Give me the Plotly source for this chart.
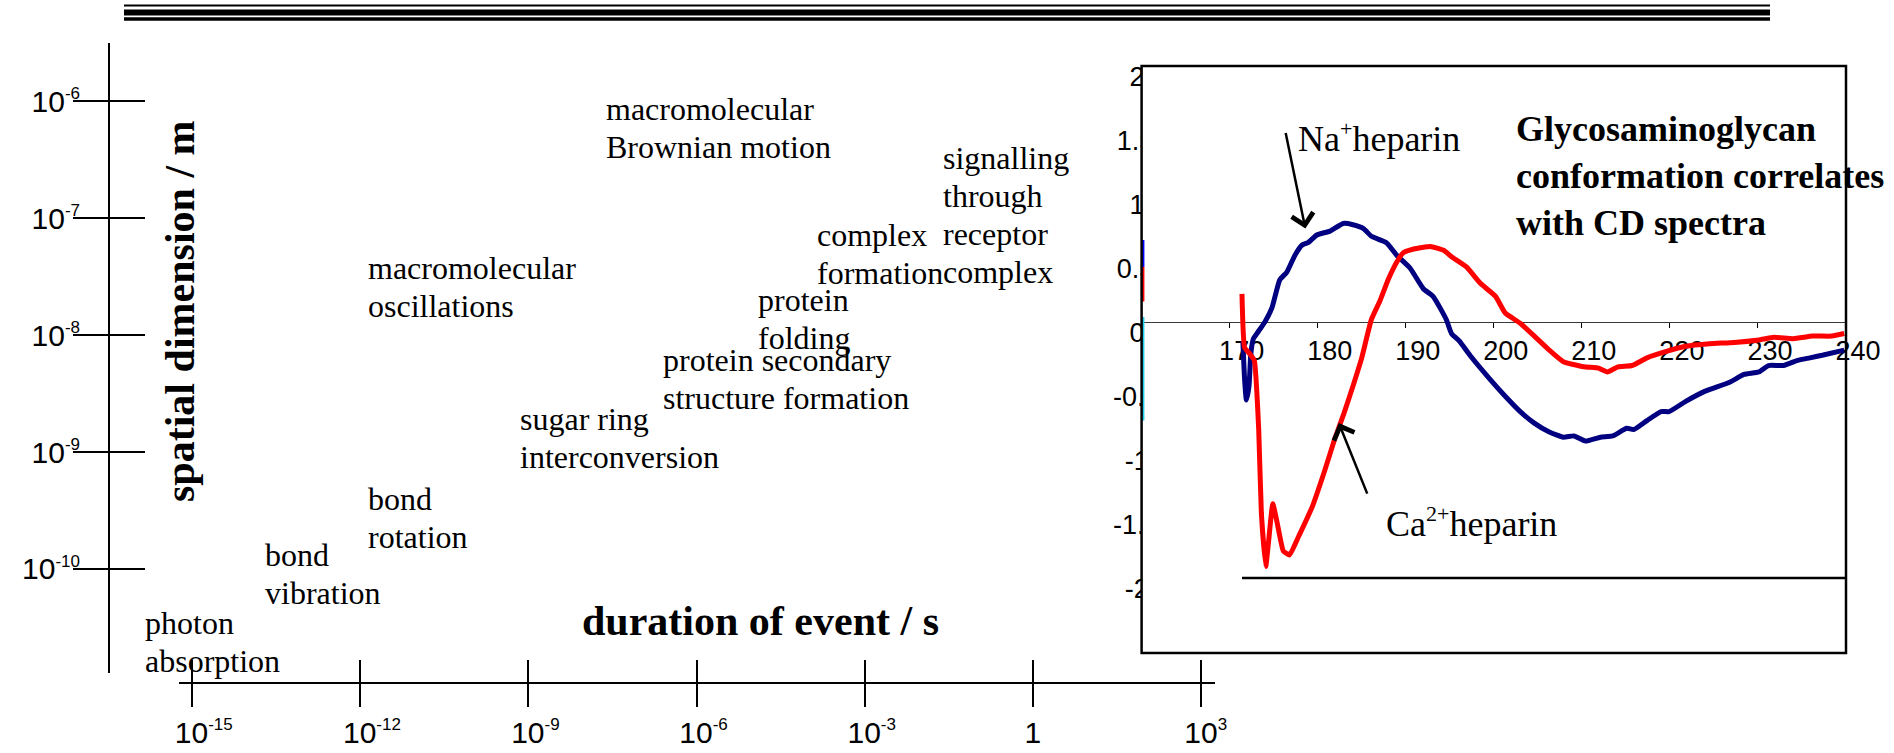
import plotly.graph_objects as go

W, H = 1894, 753
SANS = "Liberation Sans, Arial, sans-serif"
SERIF = "Liberation Serif, Times New Roman, serif"

# ---------------- main diagram: time / length scales ----------------
dur_tickvals = [1e-15, 1e-12, 1e-9, 1e-6, 1e-3, 1, 1e3]
dur_base = ["10", "10", "10", "10", "10", "1", "10"]
dur_exp = ["-15", "-12", "-9", "-6", "-3", "", "3"]

size_tickvals = [1e-10, 1e-9, 1e-8, 1e-7, 1e-6]
size_base = ["10", "10", "10", "10", "10"]
size_exp = ["-10", "-9", "-8", "-7", "-6"]

event_lines = [
    ["macromolecular", "Brownian motion"],
    ["signalling", "through", "receptor", "complex"],
    ["complex", "formation"],
    ["macromolecular", "oscillations"],
    ["protein", "folding"],
    ["protein secondary", "structure formation"],
    ["sugar ring", "interconversion"],
    ["bond", "rotation"],
    ["bond", "vibration"],
    ["photon", "absorption"],
]
# log10(duration / s) and log10(size / m) of each label (left edge, block centre)
event_log_dur = [-7.65, -1.64, -3.88, -11.90, -4.94, -6.63, -9.18, -11.90, -13.73, -15.0]
event_log_size = [-6.23, -6.97, -7.31, -7.59, -7.86, -8.38, -8.88, -9.56, -10.04, -10.62]
event_xshift = [0, 0, 0, 0, 0, 0, 0, 0, 0, -49]

# ---------------- inset: CD spectra ----------------
wl_na = [171.5, 171.7, 171.9, 172.2, 172.4, 172.7, 173.2, 174.0, 174.8, 175.7, 176.5, 177.4,
         178.2, 178.9, 179.9, 181.4, 182.9, 184.0, 185.2, 186.1, 187.8, 189.0, 190.5, 192.0,
         193.1, 194.6, 195.2, 196.1, 197.4, 199.6, 201.3, 203.0, 204.6, 206.3, 207.9, 209.1,
         210.4, 212.1, 213.5, 215.1, 215.9, 217.4, 219.0, 219.9, 221.8, 224.0, 226.8, 228.4,
         230.1, 231.2, 232.9, 234.5, 235.9, 237.3, 239.8]
cd_na = [-0.15, -0.45, -0.61, -0.50, -0.25, -0.13, -0.08, 0.00, 0.11, 0.33, 0.39, 0.52,
         0.60, 0.62, 0.68, 0.71, 0.77, 0.76, 0.73, 0.67, 0.62, 0.52, 0.42, 0.26,
         0.20, 0.02, -0.09, -0.15, -0.27, -0.45, -0.58, -0.70, -0.79, -0.86, -0.90, -0.89,
         -0.93, -0.90, -0.89, -0.83, -0.84, -0.77, -0.70, -0.70, -0.62, -0.54, -0.47, -0.41,
         -0.39, -0.34, -0.34, -0.30, -0.28, -0.26, -0.22]

wl_ca = [171.4, 171.7, 172.3, 172.8, 173.3, 173.6, 174.1, 174.4, 174.9, 175.4, 176.1, 176.8,
         177.8, 179.4, 180.8, 181.9, 183.0, 184.1, 185.0, 186.1, 187.1, 188.0, 189.0, 189.7,
         190.9, 192.8, 194.3, 195.2, 196.9, 198.5, 200.2, 201.3, 203.0, 204.6, 206.3, 207.9,
         210.2, 211.9, 212.9, 214.1, 215.7, 217.4, 219.6, 221.8, 224.5, 227.3, 230.1, 231.8,
         234.0, 236.2, 238.4, 239.8]
cd_ca = [0.22, -0.20, -0.25, -0.30, -0.84, -1.49, -1.91, -1.73, -1.42, -1.57, -1.79, -1.82,
         -1.68, -1.44, -1.16, -0.92, -0.71, -0.48, -0.28, 0.02, 0.17, 0.33, 0.47, 0.54,
         0.57, 0.59, 0.56, 0.51, 0.43, 0.30, 0.20, 0.07, -0.01, -0.11, -0.22, -0.31,
         -0.35, -0.36, -0.39, -0.35, -0.34, -0.28, -0.23, -0.19, -0.17, -0.16, -0.14, -0.12,
         -0.13, -0.11, -0.11, -0.09]

# black baseline of the pasted spectrum
base_wl = [171.4, 240.0]
base_cd = [-2.0, -2.0]

# small remnants of other traces at the left border
stub_blue = [0.64, 0.43]
stub_red = [0.43, 0.16]
stub_cyan = [0.04, -0.77]

wl_ticks = [170, 180, 190, 200, 210, 220, 230, 240]
cd_ticks = [2, 1.5, 1, 0.5, 0, -0.5, -1, -1.5, -2]
cd_ticktext = ["2", "1.5", "1", "0.5", "0", "-0.5", "-1", "-1.5", "-2"]

WL_RANGE = [160, 240]
CD_RANGE = [-2.586, 2.0]

# ---------------- layout geometry (pixels) ----------------
def fx(px):
    return px / W

def fy(py):
    return 1 - py / H

inset_dom_y = [fy(653), fy(66)]
zero_pos = inset_dom_y[0] + (0 - CD_RANGE[0]) / (CD_RANGE[1] - CD_RANGE[0]) * (inset_dom_y[1] - inset_dom_y[0])

SUP = "<sup><span style='font-size:17px'>{}</span></sup>"

def sup_pad(n):
    return SUP.format("\u00a0" * n) if n else ""

pad_by_len = {0: 0, 1: 2, 2: 3, 3: 5}
dur_ticktext = [sup_pad(pad_by_len[len(e)]) + b + (SUP.format(e) if e else "")
                for b, e in zip(dur_base, dur_exp)]
size_ticktext = [b + SUP.format(e) for b, e in zip(size_base, size_exp)]
cd_pad = {1: "\u00a0\u00a0", 2: "\u2009\u2009", 3: "\u2009", 4: ""}
cd_ticktext_padded = [t + cd_pad[len(t)] for t in cd_ticktext]

fig = go.Figure()

# invisible event anchors (main axes) and overlay-axis anchor
fig.add_trace(go.Scatter(x=[10 ** v for v in event_log_dur], y=[10 ** v for v in event_log_size],
                         mode="markers", marker=dict(size=1, opacity=0), hoverinfo="skip",
                         showlegend=False, xaxis="x", yaxis="y"))
fig.add_trace(go.Scatter(x=[10 ** v for v in event_log_dur], y=[10 ** v for v in event_log_size],
                         mode="markers", marker=dict(size=1, opacity=0), hoverinfo="skip",
                         showlegend=False, xaxis="x3", yaxis="y3"))

# white strips hiding the right part of the inset tick labels
for ya, yb in [(0.015, CD_RANGE[1]), (CD_RANGE[0], -0.015)]:
    fig.add_trace(go.Scatter(x=[160, 163.5, 163.5, 160, 160], y=[ya, ya, yb, yb, ya],
                             fill="toself", fillcolor="white", line=dict(width=0),
                             mode="lines", hoverinfo="skip", showlegend=False,
                             xaxis="x2", yaxis="y2"))

fig.add_trace(go.Scatter(x=base_wl, y=base_cd, mode="lines", line=dict(color="black", width=2.5),
                         hoverinfo="skip", showlegend=False, xaxis="x2", yaxis="y2"))
fig.add_trace(go.Scatter(x=wl_na, y=cd_na, mode="lines", name="Na+ heparin",
                         line=dict(color="#000080", width=5, shape="spline", smoothing=0.5),
                         showlegend=False, xaxis="x2", yaxis="y2"))
fig.add_trace(go.Scatter(x=wl_ca, y=cd_ca, mode="lines", name="Ca2+ heparin",
                         line=dict(color="#ff0000", width=5, shape="spline", smoothing=0.4),
                         showlegend=False, xaxis="x2", yaxis="y2"))
for vals, col in [(stub_blue, "#0000ff"), (stub_red, "#ff0000"), (stub_cyan, "#22ccee")]:
    fig.add_trace(go.Scatter(x=[160.15, 160.15], y=vals, mode="lines", line=dict(color=col, width=3),
                             hoverinfo="skip", showlegend=False, xaxis="x2", yaxis="y2"))

annotations = []
LS = 38
for lines, lx, ly, xs in zip(event_lines, event_log_dur, event_log_size, event_xshift):
    n = len(lines)
    for i, t in enumerate(lines):
        annotations.append(dict(xref="x", yref="y", x=lx, y=ly, text=t, showarrow=False,
                                xanchor="left", yanchor="middle", xshift=xs,
                                yshift=((n - 1) / 2 - i) * LS,
                                font=dict(family=SERIF, size=32, color="black")))

annotations += [
    dict(xref="paper", yref="paper", x=fx(760), y=fy(621), text="duration of event / s",
         showarrow=False, xanchor="center", yanchor="middle",
         font=dict(family=SERIF, size=42, color="black", weight=700)),
    dict(xref="paper", yref="paper", x=fx(180), y=fy(311), text="spatial dimension / m",
         showarrow=False, textangle=-90, xanchor="center", yanchor="middle",
         font=dict(family=SERIF, size=42, color="black", weight=700)),
    dict(xref="x2", yref="y2", x=202.3, y=1.14,
         text="Glycosaminoglycan<br>conformation correlates<br>with CD spectra",
         showarrow=False, xanchor="left", yanchor="middle", align="left",
         font=dict(family=SERIF, size=36, color="black", weight=700)),
    dict(xref="x2", yref="y2", x=177.5, y=1.44,
         text="Na<sup><span style='font-size:22px'>+</span></sup>heparin",
         showarrow=False, xanchor="left", yanchor="middle",
         font=dict(family=SERIF, size=36, color="black")),
    dict(xref="x2", yref="y2", x=187.5, y=-1.57,
         text="Ca<sup><span style='font-size:22px'>2+</span></sup>heparin",
         showarrow=False, xanchor="left", yanchor="middle",
         font=dict(family=SERIF, size=36, color="black")),
    dict(xref="x2", yref="y2", x=178.6, y=0.73, ax=-20, ay=-97, text="", showarrow=True,
         arrowhead=4, arrowsize=1.7, arrowwidth=2.5, arrowcolor="black"),
    dict(xref="x2", yref="y2", x=182.4, y=-0.79, ax=29, ay=72, text="", showarrow=True,
         arrowhead=4, arrowsize=1.7, arrowwidth=2.5, arrowcolor="black"),
]

shapes = [
    dict(type="line", xref="paper", yref="paper", x0=fx(124), x1=fx(1770), y0=fy(5.5), y1=fy(5.5),
         line=dict(color="black", width=2)),
    dict(type="line", xref="paper", yref="paper", x0=fx(124), x1=fx(1770), y0=fy(12.5), y1=fy(12.5),
         line=dict(color="black", width=6)),
    dict(type="line", xref="paper", yref="paper", x0=fx(124), x1=fx(1770), y0=fy(19), y1=fy(19),
         line=dict(color="black", width=3.5)),
    dict(type="rect", xref="x2 domain", yref="y2 domain", x0=0, x1=1, y0=0, y1=1,
         line=dict(color="black", width=2.5), fillcolor="rgba(0,0,0,0)", layer="above"),
]

tickfont_main = dict(family=SANS, size=30, color="black")
tickfont = dict(family=SANS, size=27, color="black")
common = dict(showgrid=False, zeroline=False, tickcolor="black", automargin=False)

fig.update_layout(
    template="none",
    width=W, height=H, margin=dict(l=0, r=0, t=0, b=0, pad=0, autoexpand=False),
    paper_bgcolor="white", plot_bgcolor="rgba(0,0,0,0)", showlegend=False,
    font=dict(family=SANS, color="black"),
    xaxis=dict(type="log", domain=[fx(179), fx(1215)], range=[-15.232, 3.25],
               anchor="free", position=fy(683), showline=True, linecolor="black", linewidth=2,
               ticks="outside", ticklen=23, tickwidth=2, tickvals=dur_tickvals,
               ticktext=dur_ticktext, tickfont=tickfont_main, **common),
    xaxis3=dict(type="log", overlaying="x", range=[-15.232, 3.25], anchor="free",
                position=fy(683), showline=False, ticks="inside", ticklen=23, tickwidth=2,
                tickvals=dur_tickvals, showticklabels=False, **common),
    yaxis=dict(type="log", domain=[fy(673), fy(43)], range=[-10.889, -5.504],
               anchor="free", position=fx(109), showline=True, linecolor="black", linewidth=2,
               ticks="outside", ticklen=35, tickwidth=2, tickvals=size_tickvals,
               ticktext=size_ticktext, tickfont=tickfont_main, ticklabelstandoff=-13, **common),
    yaxis3=dict(type="log", overlaying="y", range=[-10.889, -5.504], anchor="free",
                position=fx(109), showline=False, ticks="inside", ticklen=35, tickwidth=2,
                tickvals=size_tickvals, showticklabels=False, **common),
    xaxis2=dict(domain=[fx(1141.6), fx(1846)], range=WL_RANGE, anchor="free", position=zero_pos,
                layer="below traces", showline=True, linecolor="#3a3a3a", linewidth=1.2,
                ticks="outside", ticklen=5, tickwidth=1, tickvals=wl_ticks,
                ticktext=[str(v) for v in wl_ticks], ticklabelshift=12, tickfont=tickfont,
                **common),
    yaxis2=dict(domain=inset_dom_y, range=CD_RANGE, anchor="x2", layer="below traces",
                showline=False, ticks="", tickvals=cd_ticks, ticktext=cd_ticktext_padded,
                ticklabelstandoff=-19, ticklabelshift=11, tickfont=tickfont, **common),
    annotations=annotations,
    shapes=shapes,
)

fig.write_html("out.html", include_plotlyjs=True, config={"displayModeBar": False})
